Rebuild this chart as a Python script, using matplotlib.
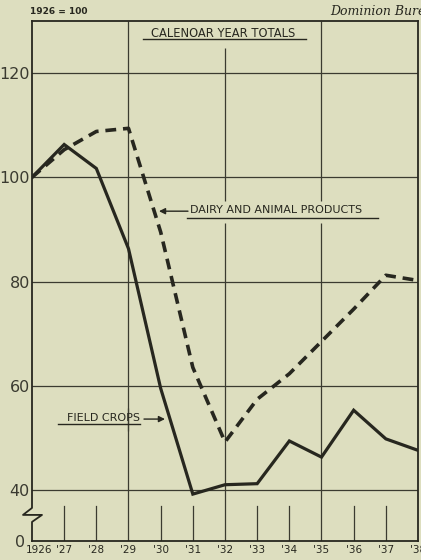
import matplotlib
matplotlib.use("Agg")
import matplotlib.pyplot as plt
import matplotlib.transforms as mtransforms
import numpy as np

# ---- data ----
years = list(range(1926, 1939))
field_crops = [100, 106.3, 101.7, 86.3, 59.5, 39.2, 41.0, 41.2, 49.4, 46.3, 55.3, 49.8, 47.6]
dairy_animal = [100, 105.3, 108.8, 109.4, 89.5, 63.5, 49.2, 57.4, 62.3, 68.5, 74.7, 81.2, 80.2]
x_labels = ["1926", "'27", "'28", "'29", "'30", "'31", "'32", "'33", "'34", "'35", "'36", "'37", "'38"]
y_ticks = [40, 60, 80, 100, 120]
y_zero_pos = 30.2   # where the "0" of the broken axis sits
y_top = 130.0

BG = "#dddebf"
INK = "#27271f"
GRID = "#3b3b30"

fig = plt.figure(figsize=(4.21, 5.60), dpi=100, facecolor=BG)
ax = fig.add_axes([32/421, 19/560, 386/421, 520/560])
ax.set_facecolor(BG)
ax.set_xlim(1926, 1938)
ax.set_ylim(y_zero_pos, y_top)

# grid (horizontal)
for v in y_ticks:
    ax.axhline(v, color=GRID, lw=0.9, zorder=1)

# vertical gridlines with label gaps
def vseg(x, y0, y1):
    ax.plot([x, x], [y0, y1], color=GRID, lw=0.9, zorder=1, solid_capstyle="butt")

vseg(1929, y_zero_pos, 55.7)
vseg(1929, 51.3, y_top)
vseg(1932, y_zero_pos, 91.2)
vseg(1932, 95.4, 124.8)
vseg(1935, y_zero_pos, 91.2)
vseg(1935, 95.4, y_top)

# short year ticks in the broken region
for yr in years:
    if yr not in (1926, 1929, 1932, 1935, 1938):
        ax.plot([yr, yr], [y_zero_pos, 36.9], color=GRID, lw=0.9, zorder=1)

# series
ax.plot(years, field_crops, color=INK, lw=2.3, solid_joinstyle="miter", zorder=3)
ax.plot(years, dairy_animal, color=INK, lw=2.6, dashes=(3.0, 1.9),
        dash_capstyle="butt", zorder=3)

# spines
for s in ["top", "right", "bottom"]:
    ax.spines[s].set_color(INK)
    ax.spines[s].set_linewidth(1.3)
ax.spines["left"].set_visible(False)

# left spine with break
xo = 1 / 32.17
py = 20 / 104.3
bx = [1926, 1926, 1926 - 9 * xo, 1926 + 10 * xo, 1926, 1926]
by = [y_top, 40 - 18 * py, 40 - 25 * py, 40 - 25 * py, 40 - 32 * py, y_zero_pos]
ax.plot(bx, by, color=INK, lw=1.3, clip_on=False, zorder=4)

# ticks
ax.set_xticks(years)
ax.set_xticklabels(x_labels, fontsize=7.5, color=INK)
ax.set_yticks([y_zero_pos] + y_ticks)
ax.set_yticklabels(["0"] + [str(v) for v in y_ticks], fontsize=11.5, color="#3a3a30")
ax.tick_params(axis="both", length=0)
ax.tick_params(axis="x", pad=3)
ax.tick_params(axis="y", pad=1.5)
xl = ax.get_xticklabels()
xl[0].set_transform(xl[0].get_transform() + mtransforms.ScaledTranslation(7/100, 0, fig.dpi_scale_trans))
yl = ax.get_yticklabels()
yl[0].set_transform(yl[0].get_transform() + mtransforms.ScaledTranslation(-5/100, 0, fig.dpi_scale_trans))

# title
ax.text(1931.94, 127.6, "CALENOAR YEAR TOTALS", ha="center", va="center", fontsize=8.3, color=INK)
ax.plot([1926 + 111 * xo, 1926 + 274 * xo], [126.5, 126.5], color=INK, lw=1.0)

# dairy label
ax.text(1926 + 158 * xo, 93.7, "DAIRY AND ANIMAL PRODUCTS", ha="left", va="center", fontsize=8.0, color=INK)
ax.plot([1926 + 155 * xo, 1926 + 346 * xo], [92.1, 92.1], color=INK, lw=1.0)
ax.annotate("", xy=(1926 + 127 * xo, 93.5), xytext=(1926 + 156 * xo, 93.5),
            arrowprops=dict(arrowstyle="-|>", color=INK, lw=1.0, mutation_scale=9,
                            shrinkA=0, shrinkB=0))

# field crops label
ax.text(1926 + 108 * xo, 53.8, "FIELD CROPS", ha="right", va="center", fontsize=8.0, color=INK)
ax.plot([1926 + 26 * xo, 1926 + 108 * xo], [52.6, 52.6], color=INK, lw=1.0)
ax.annotate("", xy=(1926 + 133 * xo, 53.6), xytext=(1926 + 112 * xo, 53.6),
            arrowprops=dict(arrowstyle="-|>", color=INK, lw=1.0, mutation_scale=9,
                            shrinkA=0, shrinkB=0))

# header texts
fig.text(30/421, 1 - 11/560, "1926 = 100", fontsize=6.5, fontweight="bold", color=INK,
         ha="left", va="center")
fig.text(330/421, 1 - 11/560, "Dominion Bureau of Statistics", fontsize=9, style="italic",
         family="DejaVu Serif", color=INK, ha="left", va="center")

fig.savefig("out.png", dpi=100, facecolor=BG)
